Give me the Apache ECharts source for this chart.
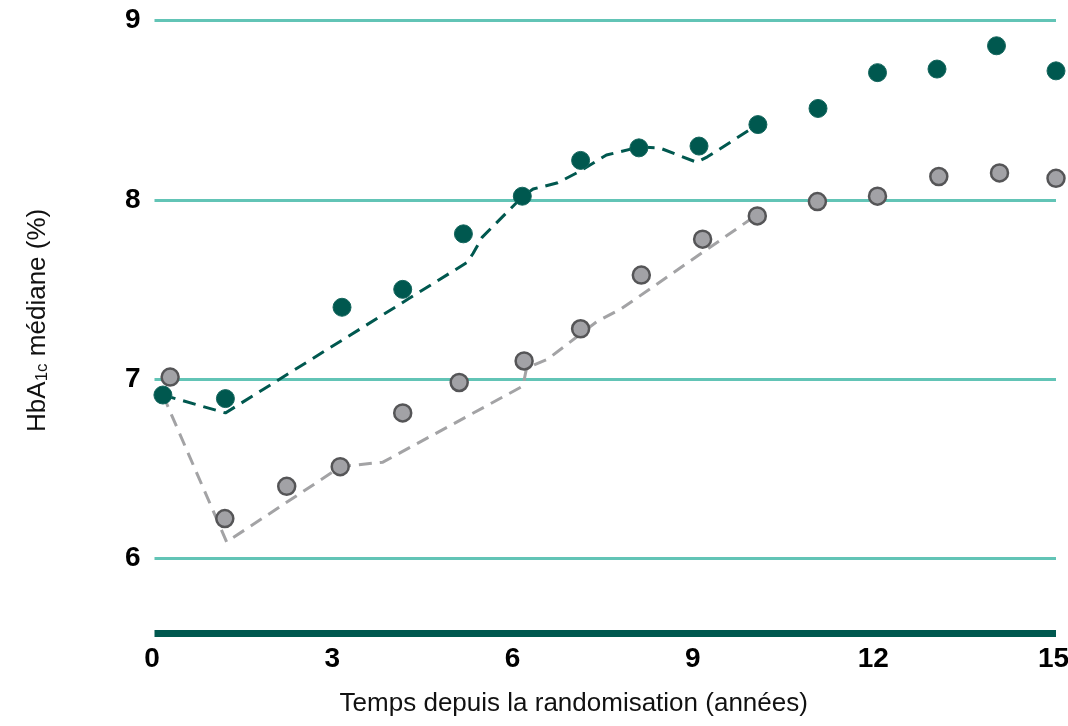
<!DOCTYPE html>
<html>
<head>
<meta charset="utf-8">
<script src="https://cdn.jsdelivr.net/npm/echarts@6/dist/echarts.min.js"></script>
<style>
  html, body { margin: 0; padding: 0; background: #ffffff; }
  #chart { width: 1068px; height: 726px; }
</style>
</head>
<body>
<div id="chart"></div>
<script>
// Observed yearly medians (years since randomisation, HbA1c %)
const intensiveYears = [0.14, 1.18, 3.12, 4.13, 5.14, 6.12, 7.09, 8.06, 9.06, 10.04, 11.04, 12.03, 13.02, 14.01, 15.0];
const intensiveHbA1c = [6.91, 6.89, 7.40, 7.50, 7.81, 8.02, 8.22, 8.29, 8.30, 8.42, 8.51, 8.71, 8.73, 8.86, 8.72];

const conventionalYears = [0.26, 1.17, 2.2, 3.09, 4.13, 5.07, 6.15, 7.09, 8.1, 9.12, 10.03, 11.03, 12.03, 13.05, 14.06, 15.0];
const conventionalHbA1c = [7.01, 6.22, 6.40, 6.51, 6.81, 6.98, 7.10, 7.28, 7.58, 7.78, 7.91, 7.99, 8.02, 8.13, 8.15, 8.12];

// Dashed trend curves (x = years, y = HbA1c %)
const intensiveTrendX = [0.14, 1.18, 4.24, 5.2, 5.3, 5.45, 6.13, 6.3, 6.71, 7.08, 7.52, 8.07, 8.4, 9.02, 9.2, 10.04];
const intensiveTrendY = [6.91, 6.81, 7.45, 7.65, 7.70, 7.79, 8.02, 8.06, 8.095, 8.16, 8.25, 8.295, 8.29, 8.21, 8.24, 8.42];

const conventionalTrendX = [0.14, 1.2, 3.1, 3.8, 6.13, 6.19, 6.54, 7.36, 7.76, 10.04];
const conventionalTrendY = [6.91, 6.09, 6.51, 6.535, 6.96, 7.06, 7.11, 7.32, 7.39, 7.92];

// Axis ticks
const xTicks = [0, 3, 6, 9, 12, 15];
const yTicks = [6, 7, 8, 9];

const zip = (xs, ys) => xs.map((x, i) => [x, ys[i]]);

const DARK = '#00584F';
const GRID_TEAL = '#62C4B6';
const GREY_LINE = '#A3A3A5';

const tickFont = "'Liberation Sans', Arial, sans-serif";
const titleFont = "'Liberation Sans', Arial, sans-serif";

const chart = echarts.init(document.getElementById('chart'), null, { renderer: 'canvas' });

chart.setOption({
  backgroundColor: '#ffffff',
  animation: false,
  grid: {
    left: 154.5,
    right: 12,
    top: 20.7,
    height: 537.3,
    containLabel: false,
    outerBoundsMode: 'none'
  },
  xAxis: {
    type: 'value',
    min: xTicks[0],
    max: xTicks[xTicks.length - 1],
    interval: xTicks[1] - xTicks[0],
    offset: 75,
    axisLine: { show: true, lineStyle: { color: DARK, width: 7, cap: 'butt' } },
    axisTick: { show: false },
    splitLine: { show: false },
    axisLabel: {
      margin: 12,
      color: '#000000',
      fontFamily: tickFont,
      fontWeight: 'bold',
      fontSize: 28,
      padding: [0, 5, 0, 0]
    },
    name: 'Temps depuis la randomisation (années)',
    nameLocation: 'middle',
    nameGap: 58,
    nameTextStyle: {
      color: '#111111',
      fontFamily: titleFont,
      fontSize: 26,
      padding: [0, 63, 0, 0]
    }
  },
  yAxis: {
    type: 'value',
    min: yTicks[0],
    max: yTicks[yTicks.length - 1],
    interval: yTicks[1] - yTicks[0],
    axisLine: { show: false },
    axisTick: { show: false },
    splitLine: { show: true, lineStyle: { color: GRID_TEAL, width: 3 } },
    axisLabel: {
      margin: 14,
      color: '#000000',
      fontFamily: tickFont,
      fontWeight: 'bold',
      fontSize: 28,
      padding: [6, 0, 0, 0]
    },
    name: '{a|HbA}{b|1c}{a| médiane (%)}',
    nameLocation: 'middle',
    nameGap: 104,
    nameRotate: 90,
    nameTextStyle: {
      padding: [0, 62, 0, 0],
      rich: {
        a: { fontFamily: titleFont, fontSize: 26, color: '#111111', verticalAlign: 'bottom' },
        b: { fontFamily: titleFont, fontSize: 17, color: '#111111', verticalAlign: 'bottom' }
      }
    }
  },
  series: [
    {
      name: 'conventionnel (tendance)',
      type: 'line',
      data: zip(conventionalTrendX, conventionalTrendY),
      showSymbol: false,
      symbol: 'none',
      smooth: false,
      lineStyle: { color: GREY_LINE, width: 3, type: [13, 8] },
      z: 3
    },
    {
      name: 'intensif (tendance)',
      type: 'line',
      data: zip(intensiveTrendX, intensiveTrendY),
      showSymbol: false,
      symbol: 'none',
      smooth: false,
      lineStyle: { color: DARK, width: 3, type: [13, 8] },
      z: 3
    },
    {
      name: 'conventionnel',
      type: 'scatter',
      data: zip(conventionalYears, conventionalHbA1c),
      symbol: 'circle',
      symbolSize: 17,
      itemStyle: { color: '#A2A2A6', borderColor: '#555557', borderWidth: 2.5, opacity: 1 },
      z: 4
    },
    {
      name: 'intensif',
      type: 'scatter',
      data: zip(intensiveYears, intensiveHbA1c),
      symbol: 'circle',
      symbolSize: 18,
      itemStyle: { color: DARK, borderColor: '#14665D', borderWidth: 1, opacity: 1 },
      z: 5
    }
  ]
});
</script>
</body>
</html>
